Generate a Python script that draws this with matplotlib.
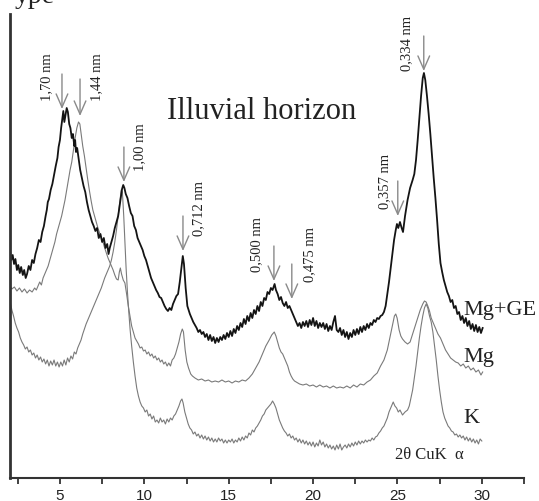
"""
X-ray diffractograms of the illuvial horizon clay fraction
"""

import matplotlib

matplotlib.use("Agg")
import numpy as np
from matplotlib import pyplot as plt

# (2theta, intensity), intensity in arbitrary units
MG_GE = [
    (2.05, 226), (2.12, 218), (2.2, 223), (2.28, 214), (2.36, 219), (2.45, 208),
    (2.53, 213), (2.62, 205), (2.7, 211), (2.8, 203), (2.88, 208), (2.97, 200),
    (3.05, 204), (3.15, 212), (3.25, 208), (3.35, 218), (3.45, 215), (3.55, 224),
    (3.65, 230), (3.75, 238), (3.85, 236), (3.95, 246), (4.05, 252), (4.15, 262),
    (4.22, 268), (4.28, 276), (4.35, 279), (4.45, 288), (4.55, 294), (4.65, 303),
    (4.75, 312), (4.85, 320), (4.92, 331), (5.0, 338), (5.07, 350), (5.13, 358),
    (5.2, 367), (5.26, 356), (5.32, 362), (5.4, 370), (5.47, 366), (5.55, 354),
    (5.62, 350), (5.7, 340), (5.77, 344), (5.85, 332), (5.9, 338), (5.95, 326),
    (6.02, 330), (6.1, 320), (6.2, 308), (6.3, 300), (6.4, 292), (6.5, 286),
    (6.6, 276), (6.7, 268), (6.8, 262), (6.9, 256), (7.0, 252), (7.1, 247),
    (7.2, 250), (7.3, 240), (7.4, 244), (7.5, 236), (7.6, 240), (7.7, 230),
    (7.8, 234), (7.88, 224), (7.95, 230), (8.05, 236), (8.15, 242), (8.25, 250),
    (8.35, 256), (8.45, 262), (8.55, 274), (8.62, 282), (8.68, 289), (8.75, 293),
    (8.82, 290), (8.9, 284), (9.0, 280), (9.1, 272), (9.2, 265), (9.3, 262),
    (9.4, 252), (9.5, 248), (9.6, 240), (9.7, 236), (9.8, 232), (9.9, 228),
    (10.0, 222), (10.1, 218), (10.2, 212), (10.3, 206), (10.4, 200), (10.5, 196),
    (10.6, 192), (10.7, 188), (10.8, 185), (10.9, 181), (11.0, 180), (11.1, 176),
    (11.2, 172), (11.3, 169), (11.4, 167), (11.5, 170), (11.6, 168), (11.7, 174),
    (11.8, 178), (11.9, 182), (12.0, 184), (12.1, 196), (12.2, 210), (12.28, 222),
    (12.35, 214), (12.45, 190), (12.55, 172), (12.7, 164), (12.8, 160), (12.9, 156),
    (13.0, 153), (13.1, 150), (13.2, 146), (13.3, 148), (13.4, 144), (13.5, 146),
    (13.6, 141), (13.7, 144), (13.8, 138), (13.9, 143), (14.0, 137), (14.1, 141),
    (14.2, 135), (14.3, 140), (14.4, 136), (14.5, 141), (14.6, 138), (14.7, 143),
    (14.8, 139), (14.9, 145), (15.0, 141), (15.1, 147), (15.2, 142), (15.3, 149),
    (15.4, 145), (15.5, 152), (15.6, 148), (15.7, 155), (15.8, 151), (15.9, 159),
    (16.0, 154), (16.1, 162), (16.2, 157), (16.3, 165), (16.4, 160), (16.5, 168),
    (16.6, 164), (16.7, 172), (16.8, 167), (16.9, 176), (17.0, 172), (17.1, 180),
    (17.2, 178), (17.3, 186), (17.4, 184), (17.5, 190), (17.6, 188), (17.72, 194),
    (17.8, 188), (17.9, 184), (18.0, 178), (18.1, 181), (18.2, 175), (18.3, 172),
    (18.4, 176), (18.5, 170), (18.6, 172), (18.7, 168), (18.8, 164), (18.9, 160),
    (19.0, 156), (19.1, 152), (19.2, 155), (19.3, 150), (19.4, 156), (19.5, 152),
    (19.6, 157), (19.7, 151), (19.8, 158), (19.9, 153), (20.0, 160), (20.1, 152),
    (20.2, 157), (20.3, 150), (20.4, 155), (20.5, 151), (20.6, 155), (20.7, 149),
    (20.8, 154), (20.9, 147), (21.0, 152), (21.1, 148), (21.2, 156), (21.3, 162),
    (21.4, 148), (21.5, 146), (21.6, 150), (21.7, 143), (21.8, 148), (21.9, 141),
    (22.0, 146), (22.1, 139), (22.2, 145), (22.3, 141), (22.4, 148), (22.5, 143),
    (22.6, 149), (22.7, 144), (22.8, 151), (22.9, 146), (23.0, 152), (23.1, 148),
    (23.2, 154), (23.3, 150), (23.4, 155), (23.5, 153), (23.6, 158), (23.7, 156),
    (23.8, 160), (23.9, 159), (24.0, 162), (24.1, 163), (24.2, 166), (24.3, 172),
    (24.4, 184), (24.5, 196), (24.6, 210), (24.7, 224), (24.8, 238), (24.9, 248),
    (24.97, 254), (25.05, 250), (25.15, 256), (25.25, 250), (25.33, 246),
    (25.45, 262), (25.6, 278), (25.75, 290), (25.9, 298), (26.0, 304), (26.1, 318),
    (26.2, 338), (26.3, 360), (26.4, 382), (26.5, 400), (26.57, 405), (26.65, 398),
    (26.75, 382), (26.85, 364), (26.95, 344), (27.05, 322), (27.15, 300),
    (27.25, 280), (27.35, 258), (27.45, 234), (27.55, 215), (27.65, 206),
    (27.75, 198), (27.85, 192), (27.95, 186), (28.05, 182), (28.15, 176),
    (28.25, 178), (28.35, 170), (28.45, 172), (28.55, 164), (28.65, 166),
    (28.75, 158), (28.85, 162), (28.95, 155), (29.05, 160), (29.15, 152),
    (29.25, 157), (29.35, 149), (29.45, 154), (29.55, 147), (29.65, 153),
    (29.75, 146), (29.85, 151), (29.95, 145), (30.05, 150),
]

MG = [
    (2.05, 192), (2.15, 189), (2.3, 191), (2.45, 187), (2.6, 190), (2.75, 186),
    (2.9, 189), (3.05, 185), (3.2, 188), (3.35, 186), (3.5, 190), (3.6, 188),
    (3.7, 192), (3.8, 196), (3.9, 193), (4.0, 200), (4.1, 204), (4.2, 208),
    (4.3, 212), (4.4, 218), (4.5, 224), (4.6, 230), (4.7, 236), (4.8, 244),
    (4.9, 250), (5.0, 256), (5.1, 262), (5.2, 270), (5.3, 278), (5.4, 288),
    (5.5, 298), (5.6, 308), (5.7, 316), (5.8, 328), (5.9, 340), (6.0, 350),
    (6.1, 356), (6.18, 354), (6.25, 345), (6.35, 332), (6.45, 322), (6.55, 310),
    (6.65, 298), (6.75, 287), (6.85, 277), (6.95, 268), (7.05, 262), (7.15, 256),
    (7.25, 250), (7.35, 245), (7.45, 240), (7.55, 236), (7.65, 230), (7.75, 225),
    (7.85, 220), (7.95, 216), (8.05, 212), (8.15, 208), (8.25, 203), (8.35, 199),
    (8.45, 198), (8.52, 206), (8.58, 210), (8.65, 204), (8.75, 198), (8.85, 195),
    (8.95, 184), (9.05, 172), (9.15, 162), (9.25, 152), (9.35, 146), (9.45, 140),
    (9.55, 137), (9.65, 134), (9.75, 130), (9.85, 131), (9.95, 127), (10.05, 128),
    (10.15, 124), (10.25, 126), (10.35, 122), (10.45, 124), (10.55, 120),
    (10.65, 122), (10.75, 118), (10.85, 120), (10.95, 116), (11.05, 118),
    (11.15, 114), (11.25, 116), (11.35, 112), (11.45, 115), (11.55, 112),
    (11.65, 118), (11.75, 120), (11.85, 124), (11.95, 130), (12.05, 136),
    (12.15, 144), (12.25, 149), (12.32, 146), (12.42, 128), (12.52, 116),
    (12.62, 110), (12.75, 104), (12.85, 102), (13.0, 100), (13.2, 98), (13.4, 99),
    (13.6, 97), (13.8, 98), (14.0, 96), (14.2, 97), (14.4, 96), (14.6, 98),
    (14.8, 96), (15.0, 97), (15.2, 95), (15.4, 97), (15.6, 96), (15.8, 98),
    (16.0, 97), (16.2, 100), (16.4, 104), (16.6, 110), (16.8, 116), (17.0, 124),
    (17.2, 132), (17.4, 138), (17.55, 143), (17.7, 146), (17.8, 142), (17.9, 136),
    (18.0, 130), (18.1, 126), (18.2, 124), (18.3, 120), (18.4, 116), (18.5, 112),
    (18.6, 106), (18.7, 102), (18.8, 99), (18.9, 97), (19.0, 96), (19.2, 94),
    (19.4, 93), (19.6, 94), (19.8, 92), (20.0, 93), (20.2, 91), (20.4, 93),
    (20.6, 91), (20.8, 92), (21.0, 90), (21.2, 92), (21.4, 90), (21.6, 91),
    (21.8, 90), (22.0, 92), (22.2, 90), (22.4, 93), (22.6, 91), (22.8, 94),
    (23.0, 93), (23.2, 96), (23.4, 98), (23.6, 102), (23.8, 105), (24.0, 112),
    (24.2, 118), (24.4, 128), (24.55, 140), (24.7, 152), (24.82, 162), (24.9, 164),
    (24.98, 160), (25.1, 148), (25.2, 142), (25.3, 139), (25.45, 136), (25.6, 134),
    (25.75, 136), (25.9, 144), (26.05, 152), (26.2, 160), (26.35, 168), (26.5, 174),
    (26.6, 177), (26.7, 176), (26.8, 172), (26.9, 167), (27.0, 160), (27.1, 156),
    (27.25, 150), (27.4, 144), (27.55, 140), (27.7, 134), (27.85, 128), (28.0, 124),
    (28.15, 120), (28.3, 118), (28.45, 116), (28.6, 115), (28.75, 112),
    (28.9, 114), (29.05, 110), (29.2, 112), (29.35, 108), (29.5, 110),
    (29.65, 106), (29.8, 108), (29.95, 103), (30.05, 106),
]

K = [
    (2.05, 176), (2.15, 168), (2.25, 162), (2.35, 155), (2.45, 150), (2.55, 146),
    (2.65, 140), (2.75, 136), (2.85, 133), (2.95, 129), (3.05, 131), (3.15, 126),
    (3.25, 128), (3.35, 123), (3.45, 125), (3.55, 120), (3.65, 123), (3.75, 118),
    (3.85, 121), (3.95, 116), (4.05, 119), (4.15, 114), (4.25, 118), (4.35, 112),
    (4.45, 117), (4.55, 113), (4.65, 118), (4.75, 112), (4.85, 116), (4.95, 111),
    (5.05, 116), (5.15, 112), (5.25, 118), (5.35, 113), (5.45, 120), (5.55, 116),
    (5.65, 122), (5.75, 119), (5.85, 126), (5.95, 124), (6.05, 130), (6.15, 134),
    (6.25, 138), (6.35, 144), (6.45, 149), (6.55, 154), (6.65, 158), (6.75, 162),
    (6.85, 166), (6.95, 170), (7.05, 174), (7.15, 178), (7.25, 182), (7.35, 186),
    (7.45, 190), (7.55, 195), (7.65, 200), (7.75, 204), (7.85, 208), (7.95, 212),
    (8.05, 218), (8.15, 226), (8.25, 236), (8.35, 248), (8.45, 262), (8.55, 276),
    (8.63, 288), (8.7, 286), (8.78, 262), (8.85, 236), (8.92, 210), (9.0, 186),
    (9.08, 166), (9.16, 148), (9.25, 132), (9.35, 116), (9.45, 102), (9.55, 90),
    (9.65, 82), (9.75, 76), (9.85, 72), (9.95, 70), (10.05, 66), (10.15, 68),
    (10.25, 62), (10.35, 64), (10.45, 59), (10.55, 62), (10.65, 56), (10.75, 58),
    (10.85, 55), (10.95, 60), (11.05, 56), (11.15, 58), (11.25, 54), (11.35, 59),
    (11.45, 56), (11.55, 60), (11.65, 58), (11.75, 62), (11.85, 64), (11.95, 68),
    (12.05, 72), (12.15, 77), (12.23, 79), (12.3, 75), (12.4, 66), (12.5, 60),
    (12.6, 54), (12.7, 50), (12.8, 48), (12.9, 44), (13.0, 46), (13.1, 42),
    (13.2, 44), (13.3, 40), (13.4, 43), (13.5, 39), (13.6, 42), (13.7, 38),
    (13.8, 41), (13.9, 37), (14.0, 40), (14.1, 36), (14.2, 39), (14.3, 36),
    (14.4, 40), (14.5, 37), (14.6, 39), (14.7, 35), (14.8, 38), (14.9, 35),
    (15.0, 38), (15.1, 36), (15.2, 39), (15.3, 35), (15.4, 38), (15.5, 36),
    (15.6, 40), (15.7, 37), (15.8, 41), (15.9, 38), (16.0, 42), (16.1, 40),
    (16.2, 45), (16.3, 43), (16.4, 48), (16.5, 46), (16.6, 50), (16.7, 52),
    (16.8, 55), (16.9, 58), (17.0, 62), (17.1, 64), (17.2, 68), (17.3, 70),
    (17.4, 72), (17.5, 74), (17.6, 77), (17.7, 74), (17.8, 70), (17.9, 64),
    (18.0, 58), (18.1, 54), (18.2, 50), (18.3, 47), (18.4, 45), (18.5, 42),
    (18.6, 44), (18.7, 40), (18.8, 42), (18.9, 38), (19.0, 40), (19.1, 36),
    (19.2, 39), (19.3, 35), (19.4, 38), (19.5, 34), (19.6, 37), (19.7, 33),
    (19.8, 36), (19.9, 32), (20.0, 36), (20.1, 31), (20.2, 35), (20.3, 32),
    (20.4, 38), (20.5, 33), (20.6, 36), (20.7, 31), (20.8, 34), (20.9, 30),
    (21.0, 33), (21.1, 29), (21.2, 32), (21.3, 28), (21.4, 33), (21.5, 29),
    (21.6, 34), (21.7, 28), (21.8, 31), (21.9, 33), (22.0, 30), (22.1, 34),
    (22.2, 31), (22.3, 35), (22.4, 32), (22.5, 36), (22.6, 33), (22.7, 37),
    (22.8, 34), (22.9, 37), (23.0, 35), (23.1, 38), (23.2, 36), (23.3, 38),
    (23.4, 37), (23.5, 40), (23.6, 38), (23.7, 41), (23.8, 42), (23.9, 45),
    (24.0, 47), (24.1, 50), (24.2, 52), (24.3, 56), (24.4, 60), (24.5, 66),
    (24.6, 70), (24.75, 76), (24.85, 72), (24.95, 70), (25.05, 66), (25.15, 68),
    (25.3, 63), (25.45, 66), (25.6, 68), (25.7, 72), (25.8, 80), (25.9, 88),
    (26.0, 100), (26.1, 112), (26.2, 126), (26.3, 140), (26.4, 152), (26.5, 162),
    (26.6, 170), (26.7, 174), (26.8, 170), (26.9, 162), (27.0, 156), (27.1, 146),
    (27.2, 132), (27.3, 118), (27.4, 102), (27.5, 88), (27.6, 76), (27.7, 66),
    (27.8, 60), (27.9, 56), (28.0, 52), (28.1, 50), (28.2, 47), (28.3, 46),
    (28.4, 43), (28.5, 44), (28.6, 41), (28.7, 43), (28.8, 40), (28.9, 42),
    (29.0, 38), (29.1, 41), (29.2, 37), (29.3, 40), (29.4, 36), (29.5, 39),
    (29.6, 35), (29.7, 38), (29.8, 34), (29.9, 39), (30.0, 37),
]

# peak labels: text, 2theta of the arrow, arrow top, arrow tip
PEAK_LABELS = ["1,70 nm", "1,44 nm", "1,00 nm", "0,712 nm",
               "0,500 nm", "0,475 nm", "0,357 nm", "0,334 nm"]
PEAK_2THETA = [5.12, 6.19, 8.79, 12.29, 17.68, 18.74, 25.02, 26.56]
ARROW_TOP = [404, 399, 331, 262, 232, 214, 297, 442]
ARROW_TIP = [369, 362, 296, 227, 197, 179, 262, 407]
# where the rotated label text sits
LABEL_X = [4.23, 7.19, 9.74, 13.24, 16.67, 19.81, 24.25, 25.56]
LABEL_Y = [402, 402, 332, 270, 235, 225, 298, 436]

SERIES_NAMES = ["Mg+GE", "Mg", "K"]
SERIES_NAME_Y = [164, 117, 56]

X_TICKS = [5, 10, 15, 20, 25, 30]

SERIF = ["Liberation Serif", "DejaVu Serif"]
SANS = ["Liberation Sans", "DejaVu Sans"]
ARROW_COLOR = "#8a8a8a"
AXIS_COLOR = "#333333"


def draw_curves(ax):
    """
    Draws the three diffractograms
    """
    for data, color, width in ((K, "#7a7a7a", 0.8), (MG, "#7a7a7a", 0.8),
                               (MG_GE, "#141414", 1.3)):
        arr = np.array(data)
        ax.plot(arr[:, 0], arr[:, 1], color=color, lw=width)


def draw_peaks(ax):
    """
    Draws arrows and d-spacing labels
    """
    for label, x, top, tip, lx, ly in zip(PEAK_LABELS, PEAK_2THETA, ARROW_TOP,
                                          ARROW_TIP, LABEL_X, LABEL_Y):
        ax.annotate(
            "", xy=(x, tip), xytext=(x, top),
            arrowprops=dict(arrowstyle="->,head_length=0.8,head_width=0.35",
                            color=ARROW_COLOR, lw=1.0, shrinkA=0, shrinkB=0,
                            mutation_scale=12),
        )
        ax.text(lx, ly, label, rotation=90, ha="center", va="center",
                fontsize=10.5, family=SERIF, color="#222222")


def main():
    """
    Main function
    """
    fig = plt.figure(figsize=(5.39, 5.02), dpi=100)
    ax = fig.add_axes([10 / 539, 23 / 502, 514 / 539, 464 / 502])

    draw_curves(ax)
    draw_peaks(ax)

    for name, y in zip(SERIES_NAMES, SERIES_NAME_Y):
        ax.text(28.93, y, name, fontsize=16, family=SERIF, color="#222222",
                va="baseline", ha="left", clip_on=False)
    ax.text(11.34, 360, "Illuvial horizon", fontsize=22, family=SERIF,
            color="#222222", va="baseline", ha="left")
    ax.text(24.85, 24, "2θ CuK  α", fontsize=12, family=SERIF,
            color="#222222", va="center", ha="left")
    # title of the original figure, cut off by the top edge
    fig.text(15 / 539, 1 - 3 / 502, "ype", fontsize=20, family=SERIF,
             color="#222222", va="baseline", ha="left")

    ax.set_xlim(2.04, 32.49)
    ax.set_ylim(0, 464)
    ax.set_xticks(X_TICKS)
    ax.set_xticks([2.5 + 5 * i for i in range(7)], minor=True)
    ax.set_yticks([])
    for side in ("top", "right"):
        ax.spines[side].set_visible(False)
    ax.spines["left"].set_linewidth(2.0)
    ax.spines["bottom"].set_linewidth(1.5)
    ax.spines["left"].set_color(AXIS_COLOR)
    ax.spines["bottom"].set_color(AXIS_COLOR)
    ax.tick_params(axis="x", which="both", direction="out", length=4,
                   width=1.3, color=AXIS_COLOR, pad=3)
    for lab in ax.get_xticklabels():
        lab.set_family(SANS)
        lab.set_fontsize(11)
        lab.set_color("#222222")

    fig.savefig("out.png", dpi=100)


if __name__ == "__main__":
    main()
